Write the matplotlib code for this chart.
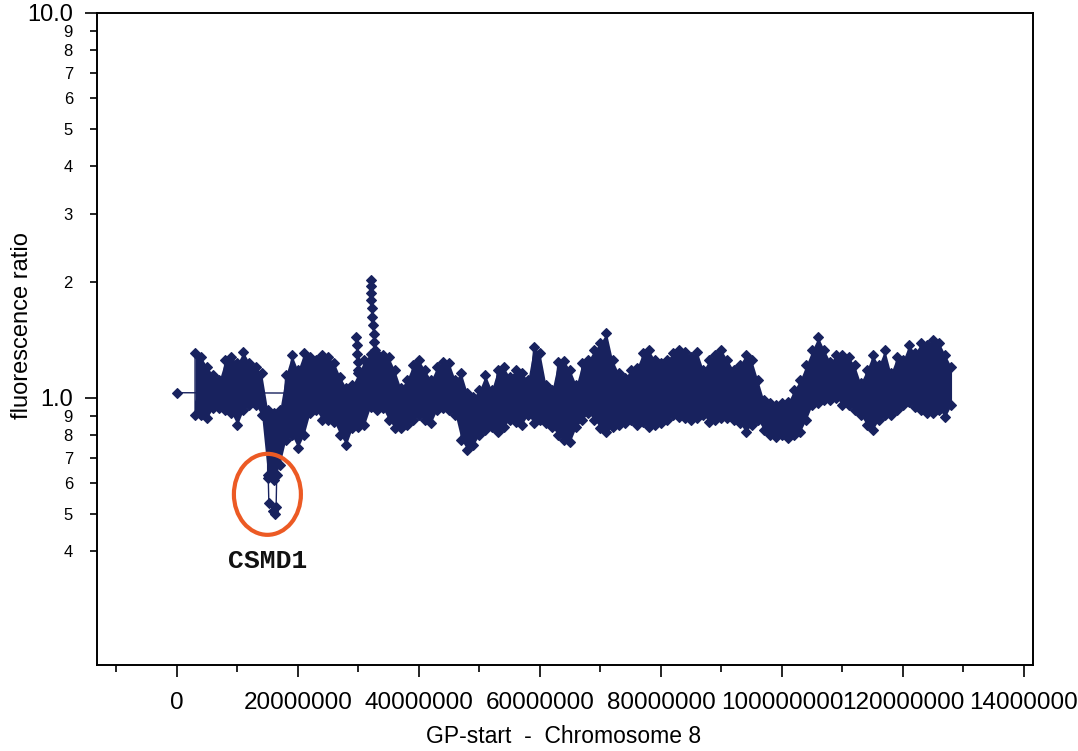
import numpy as np
import matplotlib
matplotlib.use("Agg")
import matplotlib.pyplot as plt
from matplotlib.patches import Ellipse
from matplotlib.transforms import ScaledTranslation
from matplotlib.ticker import FixedLocator, FixedFormatter

plt.rcParams['font.family'] = ['Liberation Sans', 'DejaVu Sans']

# ---------------- data (positions in Mb, fluorescence ratio) ----------------
pos_mb = [3, 4, 5, 6, 7, 8, 9, 10, 11, 12,
          13, 14, 15, 16, 17, 18, 19, 20, 21, 22,
          23, 24, 25, 26, 27, 28, 29, 30, 31, 32,
          33, 34, 35, 36, 37, 38, 39, 40, 41, 42,
          43, 44, 45, 46, 47, 48, 49, 50, 51, 52,
          53, 54, 55, 56, 57, 58, 59, 60, 61, 62,
          63, 64, 65, 66, 67, 68, 69, 70, 71, 72,
          73, 74, 75, 76, 77, 78, 79, 80, 81, 82,
          83, 84, 85, 86, 87, 88, 89, 90, 91, 92,
          93, 94, 95, 96, 97, 98, 99, 100, 101, 102,
          103, 104, 105, 106, 107, 108, 109, 110, 111, 112,
          113, 114, 115, 116, 117, 118, 119, 120, 121, 122,
          123, 124, 125, 126, 127, 128]

ratio_high = [1.309, 1.278, 1.204, 1.147, 1.114, 1.255, 1.278, 1.233, 1.317, 1.233,
              1.204, 1.161, 0.931, 0.914, 0.931, 1.147, 1.293, 1.182, 1.309, 1.278,
              1.255, 1.293, 1.278, 1.233, 1.134, 1.062, 1.081, 1.160, 1.255, 1.300,
              1.300, 1.293, 1.278, 1.182, 1.062, 1.114, 1.218, 1.255, 1.182, 1.114,
              1.204, 1.240, 1.233, 1.114, 1.161, 1.030, 1.006, 1.049, 1.147, 1.049,
              1.182, 1.204, 1.134, 1.182, 1.161, 1.114, 1.357, 1.309, 1.081, 1.049,
              1.240, 1.247, 1.182, 1.081, 1.233, 1.255, 1.332, 1.390, 1.475, 1.255,
              1.161, 1.127, 1.182, 1.197, 1.309, 1.332, 1.255, 1.233, 1.255, 1.309,
              1.332, 1.317, 1.278, 1.317, 1.182, 1.255, 1.293, 1.332, 1.255, 1.182,
              1.218, 1.293, 1.255, 1.114, 0.988, 0.971, 0.959, 0.971, 0.976, 1.049,
              1.114, 1.218, 1.332, 1.440, 1.332, 1.240, 1.293, 1.293, 1.278, 1.218,
              1.094, 1.182, 1.293, 1.218, 1.332, 1.161, 1.278, 1.255, 1.373, 1.309,
              1.390, 1.373, 1.414, 1.390, 1.293, 1.204]

ratio_low = [0.903, 0.903, 0.887, 0.942, 0.942, 0.931, 0.914, 0.851, 0.931, 0.959,
             0.959, 0.903, 0.631, 0.612, 0.670, 0.778, 0.801, 0.742, 0.801, 0.914,
             0.931, 0.877, 0.877, 0.866, 0.801, 0.755, 0.836, 0.841, 0.851, 0.947,
             0.931, 0.942, 0.877, 0.836, 0.836, 0.851, 0.877, 0.903, 0.877, 0.861,
             0.931, 0.942, 0.931, 0.903, 0.778, 0.733, 0.755, 0.801, 0.826, 0.841,
             0.816, 0.841, 0.877, 0.866, 0.851, 0.903, 0.861, 0.877, 0.861, 0.841,
             0.801, 0.778, 0.769, 0.841, 0.877, 0.914, 0.877, 0.836, 0.816, 0.841,
             0.851, 0.861, 0.877, 0.851, 0.866, 0.841, 0.851, 0.861, 0.877, 0.903,
             0.893, 0.887, 0.877, 0.887, 0.903, 0.866, 0.877, 0.887, 0.887, 0.877,
             0.861, 0.816, 0.851, 0.877, 0.826, 0.801, 0.792, 0.801, 0.787, 0.801,
             0.816, 0.877, 0.959, 0.971, 0.988, 0.988, 1.000, 0.959, 0.959, 0.931,
             0.903, 0.851, 0.826, 0.877, 0.903, 0.903, 0.931, 0.959, 0.976, 0.947,
             0.931, 0.914, 0.914, 0.931, 0.893, 0.959]

# isolated probes outside the dense band
lead_mb = [0.0, 18.6]
lead_ratio = [1.032, 1.030]

spike1_mb = [29.6, 29.7, 29.8, 29.9, 30.0]
spike1_ratio = [1.44, 1.37, 1.30, 1.24, 1.18]

spike2_mb = [32.0, 32.0, 32.1, 32.1, 32.2, 32.3, 32.4, 32.5, 32.6, 32.8]
spike2_ratio = [2.03, 1.95, 1.87, 1.80, 1.71, 1.62, 1.55, 1.47, 1.40, 1.33]

csmd1_mb = [15.1, 15.2, 15.9, 16.2, 16.4, 16.5]
csmd1_ratio = [0.62, 0.534, 0.51, 0.50, 0.52, 0.63]

callout_mb = 14.96
callout_ratio = 0.562
label_mb = 15.0
label_ratio = 0.377

xticks_mb = [0, 20, 40, 60, 80, 100, 120, 140]
xtick_labels = ['0', '20000000', '40000000', '60000000', '80000000',
                '100000000', '120000000', '14000000']
xminor_mb = [-10, 10, 30, 50, 70, 90, 110, 130]
ymajor = [1.0, 10.0]
ymajor_labels = ['1.0', '10.0']
yminor = [0.4, 0.5, 0.6, 0.7, 0.8, 0.9, 2, 3, 4, 5, 6, 7, 8, 9]
yminor_labels = ['4', '5', '6', '7', '8', '9', '2', '3', '4', '5', '6', '7', '8', '9']

# ---------------- drawing ----------------
navy = '#18225e'
MB = 1e6

fig = plt.figure(figsize=(10.78, 7.51), dpi=100)
ax = fig.add_axes([0.0900, 0.1145, 0.8683, 0.8682])

pos = np.array(pos_mb) * MB
hi = np.array(ratio_high)
lo = np.array(ratio_low)

ax.fill_between(pos, lo, hi, color=navy, lw=0, zorder=2)

zx, zy = [], []
for p, h, l in zip(pos, hi, lo):
    zx += [p, p]
    zy += [h, l]

mk = dict(marker='D', ms=5.2, mew=0.8, color=navy, mfc=navy, mec=navy, lw=1.0, zorder=3)
ax.plot(zx, zy, '-', **mk)
ax.plot(np.array(lead_mb) * MB, lead_ratio, '-', **mk)
ax.plot(np.array(spike1_mb) * MB, spike1_ratio, '-', **mk)
ax.plot(np.array(spike2_mb) * MB, spike2_ratio, '-', **mk)
ax.plot(np.array(csmd1_mb) * MB, csmd1_ratio, '-', **mk)

ax.set_yscale('log')
ax.set_ylim(0.2025, 10.0)
ax.set_xlim(-13.2 * MB, 141.5 * MB)

ax.xaxis.set_major_locator(FixedLocator(np.array(xticks_mb) * MB))
ax.xaxis.set_major_formatter(FixedFormatter(xtick_labels))
ax.xaxis.set_minor_locator(FixedLocator(np.array(xminor_mb) * MB))

ax.yaxis.set_major_locator(FixedLocator(ymajor))
ax.yaxis.set_major_formatter(FixedFormatter(ymajor_labels))
ax.yaxis.set_minor_locator(FixedLocator(yminor))
ax.yaxis.set_minor_formatter(FixedFormatter(yminor_labels))

ax.tick_params(axis='x', which='major', length=8.6, width=1.2, labelsize=17.5, pad=11)
ax.tick_params(axis='x', which='minor', length=5, width=1.2)
ax.tick_params(axis='y', which='major', length=8.6, width=1.2, labelsize=17, pad=8.6)
ax.tick_params(axis='y', which='minor', length=5, width=1.2, labelsize=12, pad=12.3)

for s in ax.spines.values():
    s.set_linewidth(1.4)
    s.set_color('black')

ax.set_xlabel('GP-start  -  Chromosome 8', fontsize=16.5, va='center')
ax.xaxis.set_label_coords(0.498, -0.110)
ax.set_ylabel('fluorescence ratio', fontsize=17, va='center')
ax.yaxis.set_label_coords(-0.080, 0.52)

# callout
ell_tr = fig.dpi_scale_trans + ScaledTranslation(callout_mb * MB, callout_ratio, ax.transData)
ax.add_patch(Ellipse((0, 0), 0.67, 0.81, transform=ell_tr, fill=False,
                     edgecolor='#ec5a24', lw=3.0, zorder=4, clip_on=False))
ax.text(label_mb * MB, label_ratio, 'CSMD1', ha='center', va='center',
        family=['Liberation Mono', 'DejaVu Sans Mono'], weight='bold', fontsize=19,
        color='#111111', zorder=4)

fig.savefig('out.png', dpi=100, facecolor='white')
